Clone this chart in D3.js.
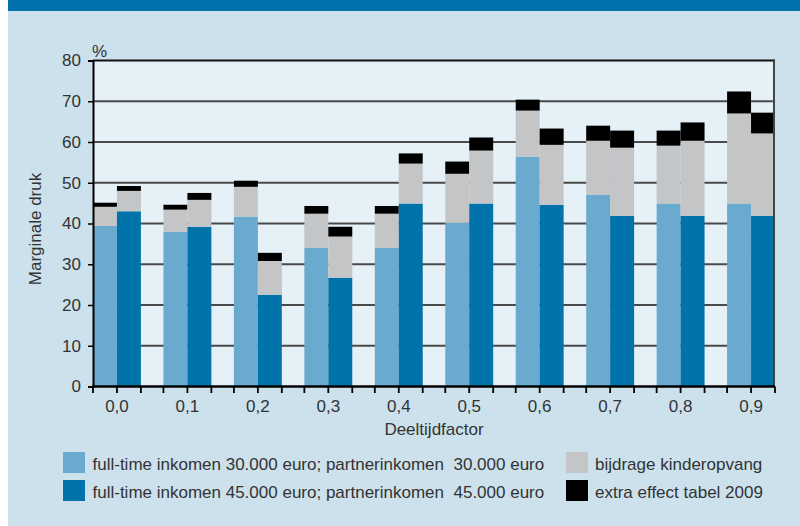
<!DOCTYPE html>
<html>
<head>
<meta charset="utf-8">
<script src="https://cdn.jsdelivr.net/npm/d3@7/dist/d3.min.js"></script>
<style>
  html, body { margin: 0; padding: 0; background: #ffffff; }
  svg { display: block; }
  text { font-family: "Liberation Sans", Arial, sans-serif; fill: #333333; }
</style>
</head>
<body>
<svg id="chart" width="800" height="526"></svg>
<script>
// ---- data ----
const categories = ["0,0", "0,1", "0,2", "0,3", "0,4", "0,5", "0,6", "0,7", "0,8", "0,9"];
const seriesKeys = ["30", "45"];
// full-time inkomen 30.000 euro; partnerinkomen 30.000 euro
const base30   = [39.4, 38.0, 41.7, 34.0, 34.0, 40.2, 56.4, 47.0, 44.9, 44.9];
const kinder30 = [4.7, 5.4, 7.3, 8.4, 8.4, 12.0, 11.3, 13.3, 14.2, 22.1];
const extra30  = [1.0, 1.2, 1.5, 1.9, 1.9, 3.0, 2.7, 3.7, 3.7, 5.4];
// full-time inkomen 45.000 euro; partnerinkomen 45.000 euro
const base45   = [43.0, 39.2, 22.5, 26.7, 44.9, 44.9, 44.6, 41.9, 41.9, 41.9];
const kinder45 = [5.0, 6.6, 8.3, 10.1, 9.8, 13.0, 14.7, 16.7, 18.4, 20.2];
const extra45  = [1.2, 1.7, 2.0, 2.4, 2.5, 3.2, 4.0, 4.2, 4.5, 5.1];
const yTicks = [0, 10, 20, 30, 40, 50, 60, 70, 80];
const legendLabels = [
  "full-time inkomen 30.000 euro; partnerinkomen  30.000 euro",
  "full-time inkomen 45.000 euro; partnerinkomen  45.000 euro",
  "bijdrage kinderopvang",
  "extra effect tabel 2009"
];

// ---- styles ----
const colLight = "#69AACE", colDark = "#0073AA", colGray = "#C4C5C7", colBlack = "#000000";
const bgOuter = "#CCE1EC", bgPlot = "#E5F0F7", topBar = "#0071AA";

const svg = d3.select("#chart");
const L = 93, R = 775, T = 60.5, B = 386.5;

// background
svg.append("rect").attr("x", 8).attr("y", 0).attr("width", 792).attr("height", 526).attr("fill", bgOuter);
svg.append("rect").attr("x", 8).attr("y", 0).attr("width", 792).attr("height", 11).attr("fill", topBar);
svg.append("rect").attr("x", L).attr("y", T).attr("width", R - L).attr("height", B - T).attr("fill", bgPlot);

// scales
const x0 = d3.scaleBand().domain(categories).range([L, R]).paddingInner(0.32).paddingOuter(0);
const x1 = d3.scaleBand().domain(seriesKeys).range([0, x0.bandwidth()]);
const y = d3.scaleLinear().domain([0, 80]).range([B, T]);

// gridlines
svg.append("g").selectAll("line").data(yTicks.filter(d => d > 0)).join("line")
  .attr("x1", L).attr("x2", R).attr("y1", d => y(d)).attr("y2", d => y(d))
  .attr("stroke", d => d === 80 ? "#111" : "#4a4a4a").attr("stroke-width", 2);

// bars
const seriesData = {
  "30": { base: base30, kinder: kinder30, extra: extra30, color: colLight },
  "45": { base: base45, kinder: kinder45, extra: extra45, color: colDark }
};
const segs = [];
categories.forEach((c, i) => {
  seriesKeys.forEach(k => {
    const s = seriesData[k];
    const v0 = s.base[i], v1 = v0 + s.kinder[i], v2 = v1 + s.extra[i];
    segs.push({ c, k, lo: 0, hi: v0, color: s.color });
    segs.push({ c, k, lo: v0, hi: v1, color: colGray });
    segs.push({ c, k, lo: v1, hi: v2, color: colBlack });
  });
});
svg.append("g").selectAll("rect").data(segs).join("rect")
  .attr("x", d => x0(d.c) + x1(d.k))
  .attr("width", x1.bandwidth())
  .attr("y", d => y(d.hi))
  .attr("height", d => y(d.lo) - y(d.hi))
  .attr("fill", d => d.color);

// right border
svg.append("line").attr("x1", R - 1).attr("x2", R - 1).attr("y1", T - 1).attr("y2", B)
  .attr("stroke", "#444").attr("stroke-width", 2);

// y axis
const yAxis = d3.axisLeft(y).tickValues(yTicks).tickSize(5).tickPadding(7).tickFormat(d3.format("d"));
const gy = svg.append("g").attr("transform", `translate(${L},0)`).call(yAxis);
gy.select(".domain").attr("stroke", "#000").attr("stroke-width", 2);
gy.selectAll(".tick line").attr("stroke", "#000").attr("stroke-width", 1.5);
gy.selectAll(".tick text").attr("font-size", 17).attr("fill", "#333")
  .attr("font-family", "Liberation Sans, Arial, sans-serif");

// x axis: labels from band scale
const xAxis = d3.axisBottom(x0).tickSize(0).tickPadding(13);
const gx = svg.append("g").attr("transform", `translate(0,${B})`).call(xAxis);
gx.select(".domain").remove();
gx.selectAll(".tick text").attr("font-size", 17).attr("fill", "#333")
  .attr("font-family", "Liberation Sans, Arial, sans-serif");
// x axis line
svg.append("line").attr("x1", L - 1).attr("x2", R).attr("y1", B).attr("y2", B)
  .attr("stroke", "#000").attr("stroke-width", 2.5);
// tick marks at bar edges
const tickXs = [];
categories.forEach(c => {
  tickXs.push(x0(c), x0(c) + x1("45"), x0(c) + x0.bandwidth());
});
svg.append("g").selectAll("line").data(tickXs).join("line")
  .attr("x1", d => d).attr("x2", d => d).attr("y1", B).attr("y2", B + 6.5)
  .attr("stroke", "#000").attr("stroke-width", 1.8);

// labels
svg.append("text").attr("x", L - 1).attr("y", 56.5).attr("font-size", 17).text("%");
svg.append("text").attr("x", (L + R) / 2).attr("y", 435).attr("text-anchor", "middle")
  .attr("font-size", 17).text("Deeltijdfactor");
svg.append("text").attr("transform", "translate(40.5,229) rotate(-90)").attr("text-anchor", "middle")
  .attr("font-size", 17).text("Marginale druk");

// legend
const legendItems = [
  { label: legendLabels[0], color: colLight, x: 63, y: 452 },
  { label: legendLabels[1], color: colDark, x: 63, y: 480 },
  { label: legendLabels[2], color: colGray, x: 566, y: 452 },
  { label: legendLabels[3], color: colBlack, x: 566, y: 480 }
];
const lg = svg.append("g").selectAll("g").data(legendItems).join("g")
  .attr("transform", d => `translate(${d.x},${d.y})`);
lg.append("rect").attr("width", 22).attr("height", 21).attr("fill", d => d.color);
lg.append("text").attr("x", d => d.x === 63 ? 29.5 : 29).attr("y", 18)
  .attr("font-size", 17).style("white-space", "pre").text(d => d.label);
</script>
</body>
</html>
